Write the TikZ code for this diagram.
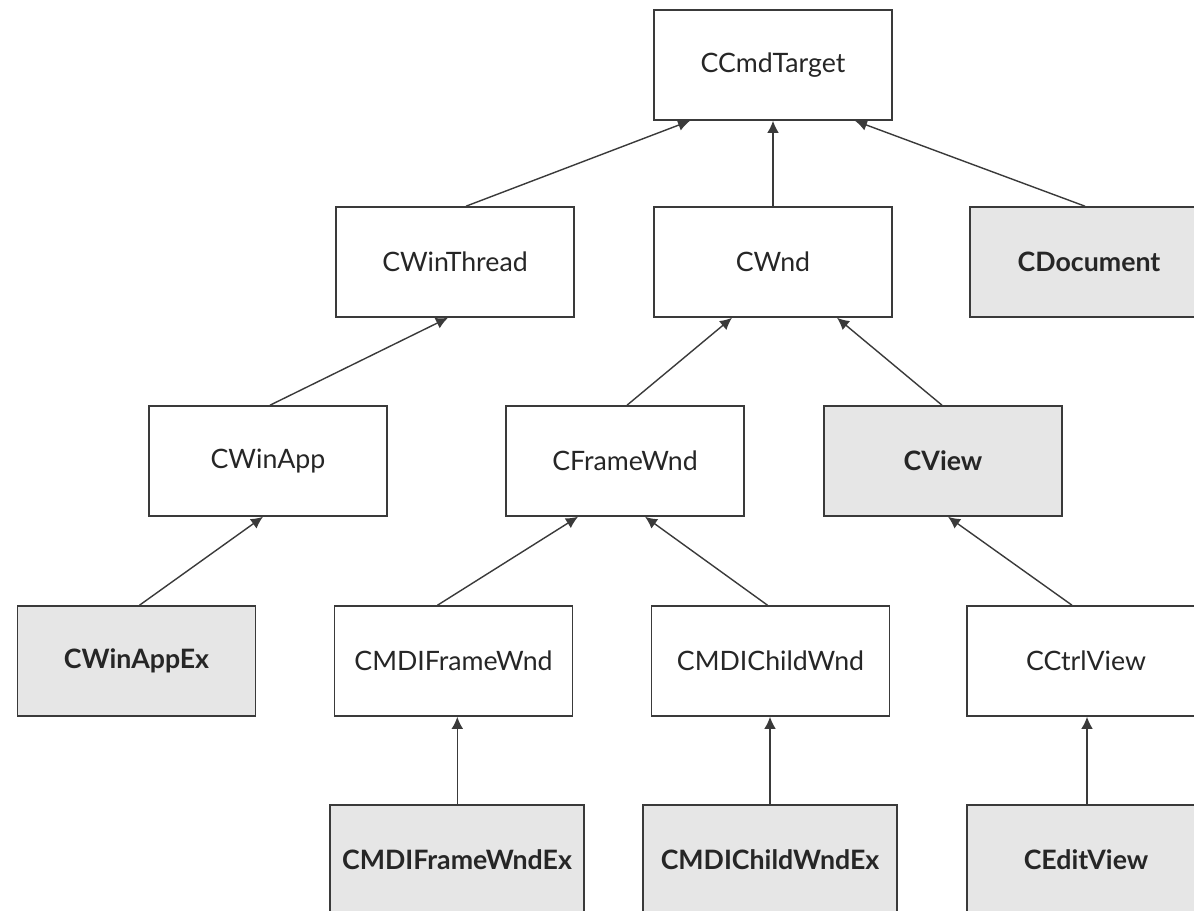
\documentclass[tikz,border=0pt]{standalone}
\usepackage{fontspec}
\setmainfont{Lato}
\usepackage{tikz}
\usepackage{xcolor}
\usetikzlibrary{arrows.meta,calc}

\definecolor{boxline}{HTML}{3A3A3A}
\definecolor{boxgrey}{HTML}{E6E6E6}

\begin{document}
\begin{tikzpicture}[x=0.025cm,y=-0.025cm,
  every node/.style={font=\fontsize{19}{22}\selectfont},
  cls/.style={draw=boxline,fill=white,line width=1.1pt,
    minimum width=5.95cm,minimum height=2.75cm,inner sep=0pt,text=black!85},
  newcls/.style={cls,fill=boxgrey,font=\fontsize{19}{22}\selectfont\bfseries},
  wide/.style={minimum width=6.35cm},
  inherit/.style={-{Latex[length=3mm,width=2.9mm]},draw=boxline,line width=1pt}]
  \useasboundingbox (0,0) rectangle (1194,911);
  \clip (0,0) rectangle (1194,911);

  % Top level
  \node[cls] (cmdtarget) at (773,65) {CCmdTarget};

  % Second row
  \node[cls] (winthread) at (455,262) {CWinThread};
  \node[cls] (wnd) at (773,262) {CWnd};
  \node[newcls] (document) at (1089,262) {CDocument};

  % Third row
  \node[cls] (winapp) at (268,461) {CWinApp};
  \node[cls] (framewnd) at (625,461) {CFrameWnd};
  \node[newcls] (view) at (943,461) {CView};

  % Fourth row
  \node[newcls] (winappex) at (136.5,661) {CWinAppEx};
  \node[cls] (mdiframe) at (453.5,661) {CMDIFrameWnd};
  \node[cls] (mdichild) at (770.5,661) {CMDIChildWnd};
  \node[cls] (ctrlview) at (1086,661) {CCtrlView};

  % Bottom row
  \node[newcls,wide] (mdiframeex) at (457,860) {CMDIFrameWndEx};
  \node[newcls,wide] (mdichildex) at (770,860) {CMDIChildWndEx};
  \node[newcls] (editview) at (1086,860) {CEditView};

  % Inheritance arrows
  \draw[inherit] ($(winthread.north)+(11,0)$) -- ($(cmdtarget.south)+(-83,0)$);
  \draw[inherit] (wnd.north) -- (cmdtarget.south);
  \draw[inherit] ($(document.north)+(-4,0)$) -- ($(cmdtarget.south)+(82,0)$);

  \draw[inherit] ($(winapp.north)+(2,0)$) -- ($(winthread.south)+(-7,0)$);
  \draw[inherit] ($(framewnd.north)+(2,0)$) -- ($(wnd.south)+(-41,0)$);
  \draw[inherit] ($(view.north)+(-1,0)$) -- ($(wnd.south)+(64,0)$);

  \draw[inherit] ($(winappex.north)+(3,0)$) -- ($(winapp.south)+(-5,0)$);
  \draw[inherit] ($(mdiframe.north)+(-16,0)$) -- ($(framewnd.south)+(-47,0)$);
  \draw[inherit] ($(mdichild.north)+(-3,0)$) -- ($(framewnd.south)+(20,0)$);
  \draw[inherit] ($(ctrlview.north)+(-14,0)$) -- ($(view.south)+(5,0)$);

  \draw[inherit] ($(mdiframeex.north)+(0.3,0)$) -- ($(mdiframe.south)+(3.8,0)$);
  \draw[inherit] (mdichildex.north) -- ($(mdichild.south)+(-0.5,0)$);
  \draw[inherit] ($(editview.north)+(1,0)$) -- ($(ctrlview.south)+(1,0)$);
\end{tikzpicture}
\end{document}
